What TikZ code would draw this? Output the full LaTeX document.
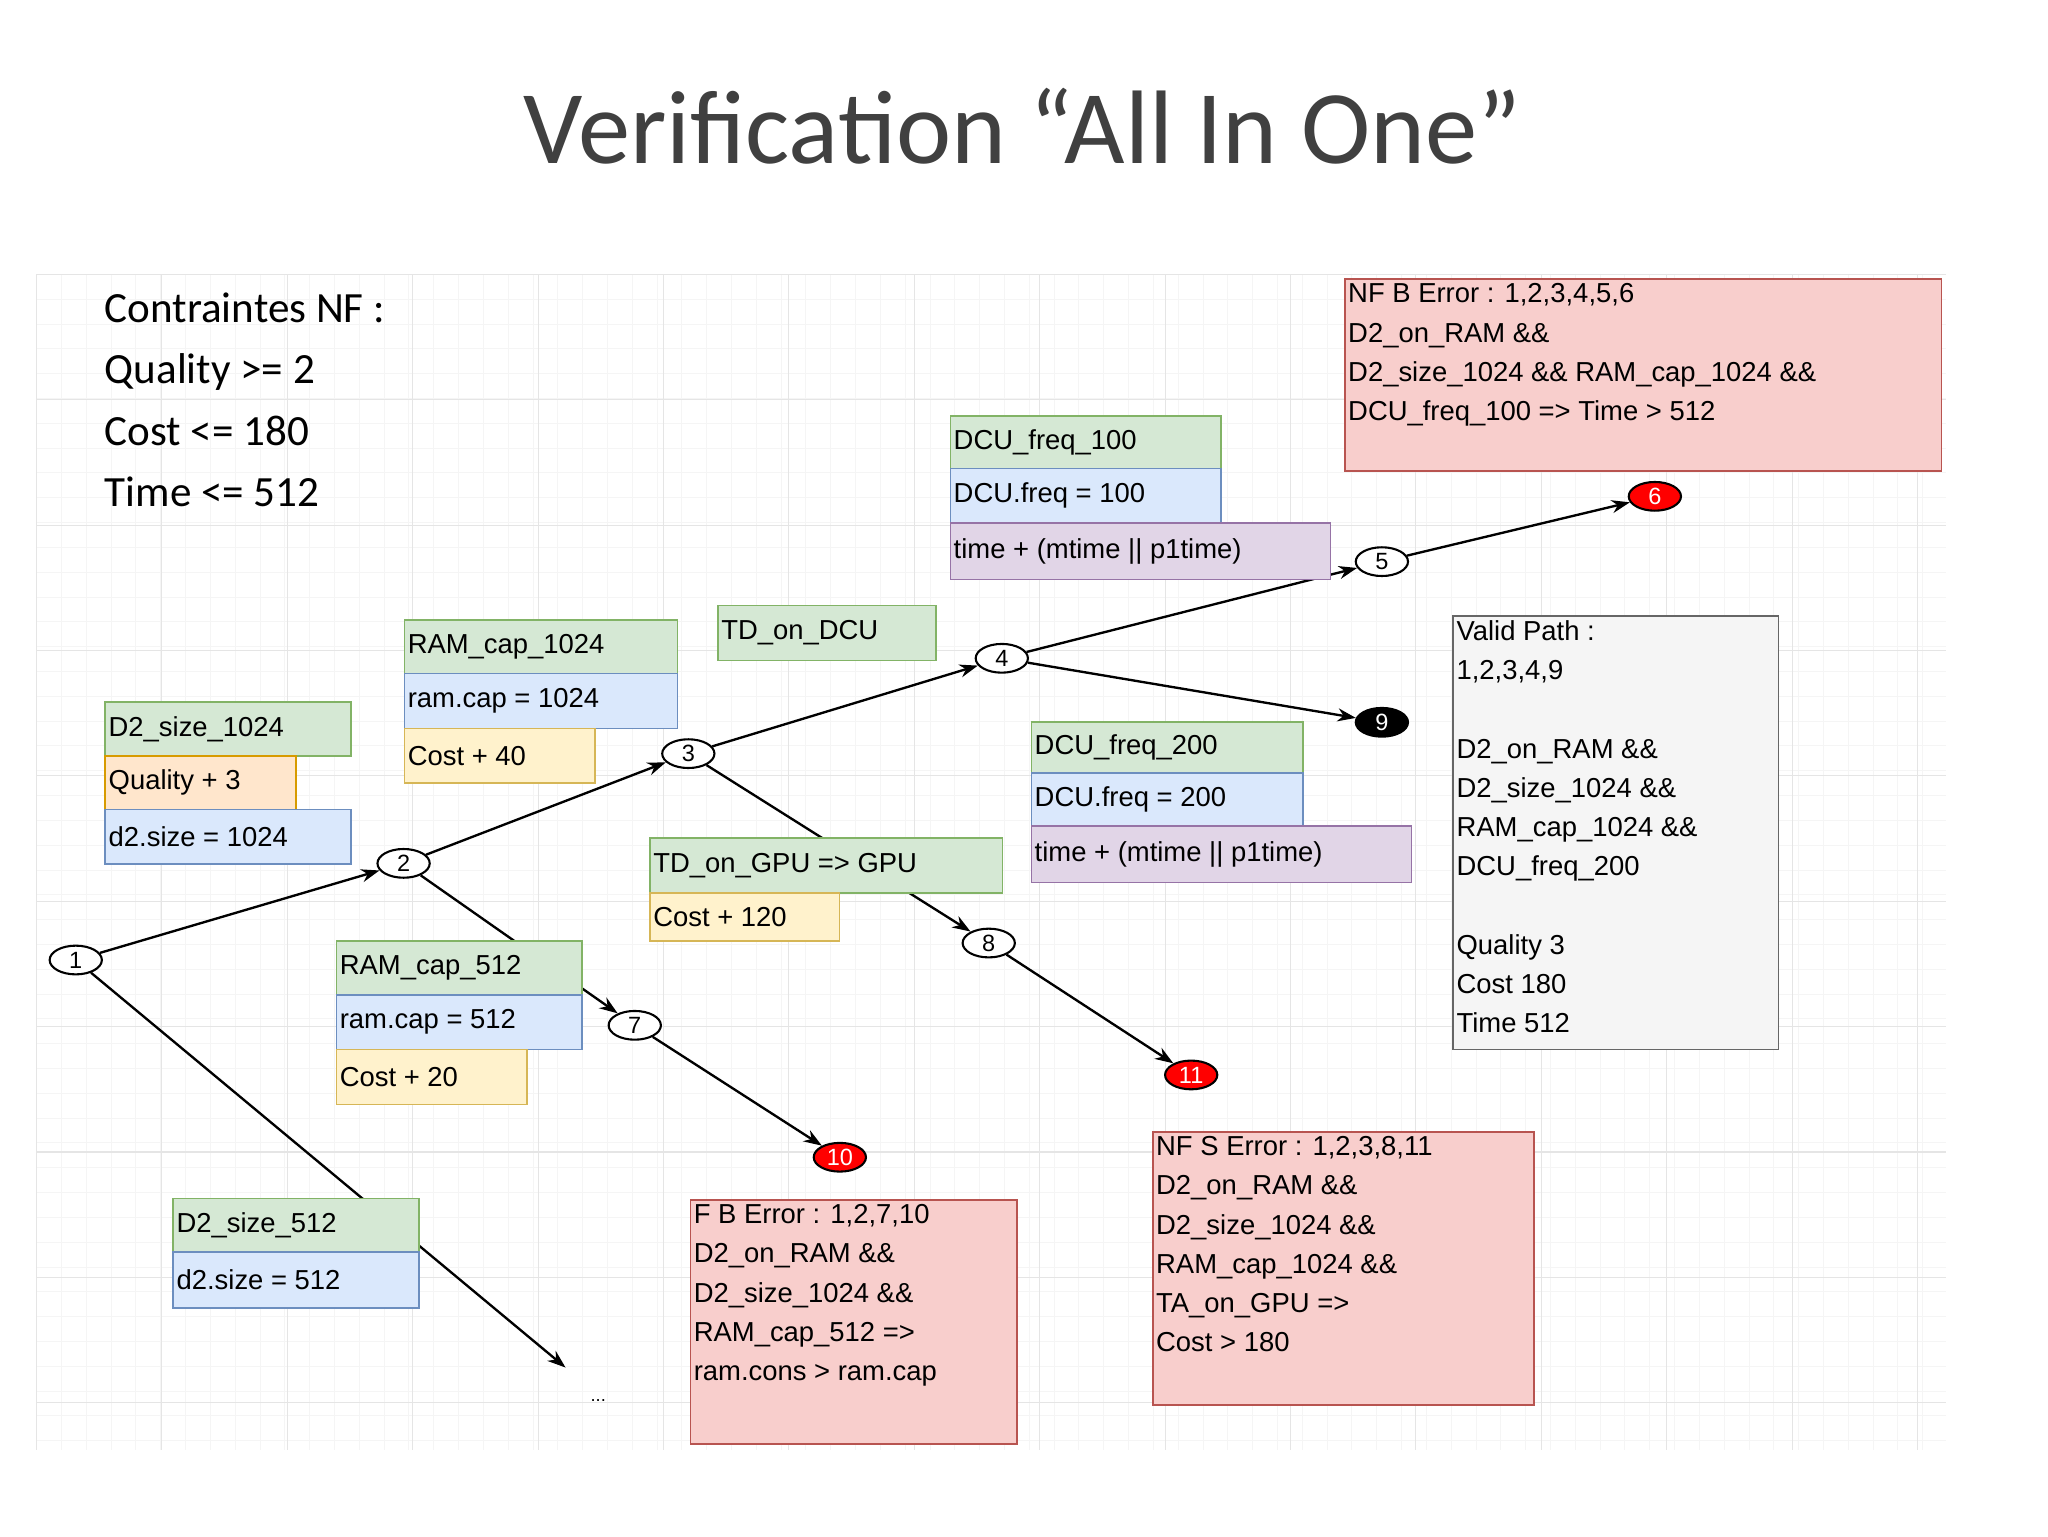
\documentclass[tikz,border=0pt]{standalone}
\usepackage{fontspec}
\setmainfont{Liberation Sans}
\newfontfamily\calib{Carlito}
\usetikzlibrary{arrows.meta}
\definecolor{gF}{HTML}{D5E8D4}\definecolor{gD}{HTML}{82B366}
\definecolor{bF}{HTML}{DAE8FC}\definecolor{bD}{HTML}{6C8EBF}
\definecolor{yF}{HTML}{FFF2CC}\definecolor{yD}{HTML}{D6B656}
\definecolor{oF}{HTML}{FFE6CC}\definecolor{oD}{HTML}{D79B00}
\definecolor{pF}{HTML}{E1D5E7}\definecolor{pD}{HTML}{9673A6}
\definecolor{rF}{HTML}{F8CECC}\definecolor{rD}{HTML}{B85450}
\definecolor{sF}{HTML}{F5F5F5}\definecolor{sD}{HTML}{666666}
\definecolor{ttl}{HTML}{404040}
\tikzset{
 gbox/.style={fill=gF,draw=gD},bbox/.style={fill=bF,draw=bD},ybox/.style={fill=yF,draw=yD},
 obox/.style={fill=oF,draw=oD},pbox/.style={fill=pF,draw=pD},rbox/.style={fill=rF,draw=rD},
 sbox/.style={fill=sF,draw=sD},
 btxt/.style={font=\fontsize{21}{30}\selectfont,inner sep=0pt,align=left},
 st/.style={ellipse,draw,line width=1.6pt,fill=white,minimum width=40pt,minimum height=22pt,inner sep=0pt,font=\fontsize{18}{18}\selectfont},
 edge/.style={line width=1.8pt,-{Stealth[length=14pt,width=10pt]}},
 pl/.style={line width=1.8pt}
}
\newcommand{\mybx}[7]{\node[#2,line width=1.2pt,anchor=north west,minimum width={(#5-#3)*1pt},minimum height={(#6-#4)*1pt},inner sep=0pt] (#1) at (#3,#4) {};
 \node[btxt,anchor=west] at ([xshift=3pt]#1.west) {#7};}
\newcommand{\mybxm}[7]{\node[#2,line width=1.2pt,anchor=north west,minimum width={(#5-#3)*1pt},minimum height={(#6-#4)*1pt},inner sep=0pt] (#1) at (#3,#4) {};
 \node[btxt,anchor=north west] at ([xshift=3pt,yshift=-4pt]#1.north west) {#7};}
\usetikzlibrary{shapes.geometric}
\begin{document}
\begin{tikzpicture}[x=1pt,y=-1pt]
\useasboundingbox (0,0) rectangle (1568,1176);
\fill[white] (0,0) rectangle (1568,1176);
% grid
\foreach \x in {28,47,...,1490} \draw[black!4,line width=0.6pt] (\x,210)--(\x,1110);
\foreach \y in {210,229,...,1110} \draw[black!4,line width=0.6pt] (28,\y)--(1490,\y);
\foreach \x in {28,124,...,1490} \draw[black!10,line width=0.8pt] (\x,210)--(\x,1110);
\foreach \y in {210,306,...,1110} \draw[black!10,line width=0.8pt] (28,\y)--(1490,\y);
% title
\node[font=\calib\fontsize{80}{80}\selectfont,text=ttl] (title) at (783,97) {Verification “All In One”};
\node[font=\calib\fontsize{33}{47}\selectfont,anchor=north west,align=left,inner sep=0pt] (cons) at (80,224) {Contraintes NF :\\Quality >= 2\\Cost <= 180\\Time <= 512};
% states
\node[st] (n1) at (58,735) {1};
\node[st] (n2) at (309,661) {2};
\node[st] (n3) at (527,577) {3};
\node[st] (n4) at (767,504) {4};
\node[st] (n5) at (1058,430) {5};
\node[st,fill=red,text=white] (n6) at (1267,380) {6};
\node[st,fill=black,text=white] (n9) at (1058,553) {9};
\node[st] (n7) at (486,785) {7};
\node[st,fill=red,text=white] (n10) at (643,886) {10};
\node[st] (n8) at (757,722) {8};
\node[st,fill=red,text=white] (n11) at (912,823) {11};
\coordinate (end) at (433,1047);
\node[font=\fontsize{14}{14}\selectfont] (dots) at (458,1072) {...};
% edges
\draw[edge] (n1)--(n2);
\draw[edge] (n2)--(n3);
\draw[edge] (n3)--(n4);
\draw[edge] (n4)--(n5);
\draw[edge] (n5)--(n6);
\draw[edge] (n4)--(n9);
\draw[edge] (n2)--(n7);
\draw[edge] (n7)--(n10);
\draw[edge] (n3)--(n8);
\draw[edge] (n8)--(n11);
\draw[edge] (n1)--(end);
% boxes
\mybx{a1}{gbox}{80}{537}{268}{578}{D2\_size\_1024}
\mybx{a2}{obox}{80}{578}{226}{619}{Quality + 3}
\mybx{a3}{bbox}{80}{619}{268}{661}{d2.size = 1024}
\mybx{b1}{gbox}{309}{474}{518}{515}{RAM\_cap\_1024}
\mybx{b2}{bbox}{309}{515}{518}{557}{ram.cap = 1024}
\mybx{b3}{ybox}{309}{557}{455}{599}{Cost + 40}
\mybx{c1}{gbox}{549}{463}{716}{505}{TD\_on\_DCU}
\mybx{d1}{gbox}{727}{318}{934}{358}{DCU\_freq\_100}
\mybx{d2}{bbox}{727}{358}{934}{400}{DCU.freq = 100}
\mybx{d3}{pbox}{727}{400}{1018}{443}{time + (mtime || p1time)}
\mybx{e1}{gbox}{789}{552}{997}{591}{DCU\_freq\_200}
\mybx{e2}{bbox}{789}{591}{997}{632}{DCU.freq = 200}
\mybx{e3}{pbox}{789}{632}{1080}{675}{time + (mtime || p1time)}
\mybx{f1}{gbox}{497}{641}{767}{683}{TD\_on\_GPU => GPU}
\mybx{f2}{ybox}{497}{683}{642}{720}{Cost + 120}
\mybx{h1}{gbox}{257}{720}{445}{761}{RAM\_cap\_512}
\mybx{h2}{bbox}{257}{761}{445}{803}{ram.cap = 512}
\mybx{h3}{ybox}{257}{803}{403}{845}{Cost + 20}
\mybx{k1}{gbox}{132}{917}{320}{958}{D2\_size\_512}
\mybx{k2}{bbox}{132}{958}{320}{1001}{d2.size = 512}
\mybxm{r1}{rbox}{1029}{213}{1486}{360}{NF B Error : 1,2,3,4,5,6\\D2\_on\_RAM \&\&\\D2\_size\_1024 \&\& RAM\_cap\_1024 \&\&\\DCU\_freq\_100 => Time > 512}
\mybxm{v1}{sbox}{1112}{471}{1361}{803}{Valid Path :\\1,2,3,4,9\\[30pt]D2\_on\_RAM \&\&\\D2\_size\_1024 \&\&\\RAM\_cap\_1024 \&\&\\DCU\_freq\_200\\[30pt]Quality 3\\Cost 180\\Time 512}
\mybxm{r2}{rbox}{528}{918}{778}{1105}{F B Error : 1,2,7,10\\D2\_on\_RAM \&\&\\D2\_size\_1024 \&\&\\RAM\_cap\_512 =>\\ram.cons > ram.cap}
\mybxm{r3}{rbox}{882}{866}{1174}{1075}{NF S Error : 1,2,3,8,11\\D2\_on\_RAM \&\&\\D2\_size\_1024 \&\&\\RAM\_cap\_1024 \&\&\\TA\_on\_GPU =>\\Cost > 180}
\end{tikzpicture}
\end{document}
